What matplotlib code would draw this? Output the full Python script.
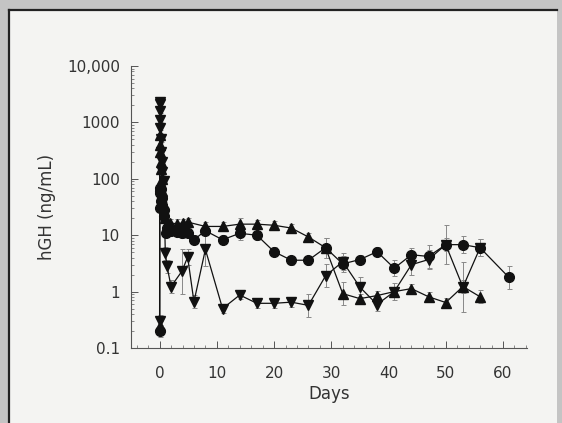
import matplotlib.pyplot as plt
import numpy as np
from matplotlib.patches import Rectangle
from matplotlib.lines import Line2D
from matplotlib.ticker import MultipleLocator, LogLocator, NullFormatter

# circles
circ_days = [0, 0.03, 0.06, 0.1, 0.15, 0.2, 0.3, 0.4, 0.5, 0.7, 0.85, 1.1, 1.3, 2, 3, 3.9, 5, 6,
             8, 11, 14, 17, 20, 23, 26, 29, 32, 35, 38, 41, 44, 47, 50, 53, 56, 61]
circ_vals = [0.2, 30, 60, 70, 55, 40, 65, 45, 35, 28, 22, 11, 13.3, 12, 11.5, 10.8, 11, 8.3,
             12, 8.3, 10.8, 10, 5.1, 3.6, 3.6, 6.0, 3.1, 3.7, 5.1, 2.6, 4.5, 4.2, 6.8, 6.8, 6.0, 1.8]
circ_err = [1.3, 1.1, 1.1, 1.1, 1.1, 1.1, 1.1, 1.1, 1.1, 1.1, 1.1, 1.2, 1.2, 1.2, 1.2, 1.2, 1.2, 1.2,
            1.2, 1.2, 1.3, 1.2, 1.2, 1.2, 1.2, 1.5, 1.4, 1.2, 1.2, 1.4, 1.3, 1.6, 1.3, 1.4, 1.4, 1.6]

# upward triangles
up_days = [0, 0.02, 0.05, 0.1, 0.17, 0.25, 0.35, 0.5, 0.75, 1.0, 1.8, 3, 4, 5,
           8, 11, 14, 17, 20, 23, 26, 29, 32, 35, 38, 41, 44, 47, 50, 53, 56]
up_vals = [0.25, 600, 400, 300, 200, 150, 100, 60, 35, 20, 16.4, 16, 16.4, 17,
           14.3, 14.3, 15.7, 15.7, 15, 13.4, 9.3, 6.0, 0.92, 0.75, 0.85, 1.0, 1.13, 0.81, 0.64, 1.23, 0.81]
up_err = [1.2, 1.1, 1.1, 1.1, 1.1, 1.1, 1.1, 1.1, 1.1, 1.1, 1.2, 1.2, 1.2, 1.2,
          1.2, 1.2, 1.3, 1.2, 1.2, 1.2, 1.2, 1.5, 1.6, 1.2, 1.2, 1.2, 1.2, 1.2, 1.2, 1.3, 1.3]

# downward triangles
down_days = [0, 0.01, 0.03, 0.06, 0.1, 0.15, 0.2, 0.3, 0.4, 0.5, 0.7, 1.0, 1.3, 2.0, 3.9, 4.9, 6.0,
             8, 11, 14, 17, 20, 23, 26, 29, 32, 35, 38, 41, 44, 47, 50, 53, 56]
down_vals = [0.3, 2300, 2100, 1600, 1100, 800, 500, 300, 200, 130, 90, 4.8, 2.8, 1.23, 2.3, 4.1, 0.66,
             5.6, 0.5, 0.87, 0.62, 0.62, 0.65, 0.57, 1.9, 3.4, 1.2, 0.59, 1.0, 3.0, 3.7, 6.8, 1.2, 6.0]
down_err = [1.3, 1.1, 1.1, 1.1, 1.1, 1.1, 1.1, 1.1, 1.1, 1.1, 1.1, 1.3, 1.3, 1.3, 2.5, 1.4, 1.3,
            2.0, 1.2, 1.2, 1.2, 1.2, 1.2, 1.6, 1.6, 1.4, 1.5, 1.3, 1.4, 1.5, 1.5, 2.2, 2.8, 1.4]

ytick_vals = [0.1, 1, 10, 100, 1000, 10000]
ytick_labels = ['0.1', '1', '10', '100', '1000', '10,000']
xtick_vals = [0, 10, 20, 30, 40, 50, 60]

plt.rcParams['font.family'] = ['DejaVu Sans']

fig = plt.figure(figsize=(5.62, 4.23), dpi=100, facecolor='#c4c4c4')

# off-white panel with dark left/top edge
fig.patches.append(Rectangle((9 / 562, 0), 548 / 562, 413 / 423,
                             transform=fig.transFigure, facecolor='#f4f4f2', edgecolor='none', zorder=-5))
fig.lines.append(Line2D([9 / 562, 9 / 562], [0, 413 / 423], transform=fig.transFigure,
                        color='#222222', linewidth=1.6, zorder=-4))
fig.lines.append(Line2D([9 / 562, 557 / 562], [413 / 423, 413 / 423], transform=fig.transFigure,
                        color='#222222', linewidth=1.6, zorder=-4))

ax = fig.add_axes([131 / 562, 75 / 423, 396 / 562, 282 / 423])
ax.set_zorder(2)
ax.set_facecolor('none')

series = [(circ_days, circ_vals, circ_err, 'o', 7),
          (up_days, up_vals, up_err, '^', 7),
          (down_days, down_vals, down_err, 'v', 7)]
for d, v, f, m, ms in series:
    v = np.array(v)
    f = np.array(f)
    yerr = [v - v / f, v * f - v]
    ax.errorbar(d, v, yerr=yerr, fmt='-', marker=m, markersize=ms, color='#111111',
                linewidth=0.9, ecolor='#888888', elinewidth=0.7, capsize=1.8, capthick=0.7)

ax.set_yscale('log')
ax.set_ylim(0.1, 10000)
ax.set_xlim(-5, 64.2)
ax.set_yticks(ytick_vals, ytick_labels)
ax.yaxis.set_minor_locator(LogLocator(base=10, subs=np.arange(2, 10)))
ax.yaxis.set_minor_formatter(NullFormatter())
ax.set_xticks(xtick_vals)
ax.xaxis.set_minor_locator(MultipleLocator(2))

for s in ['top', 'right']:
    ax.spines[s].set_visible(False)
for s in ['left', 'bottom']:
    ax.spines[s].set_color('#555555')
    ax.spines[s].set_linewidth(0.8)

ax.tick_params(which='major', direction='in', length=5, width=0.7, color='#555555',
               labelsize=11, labelcolor='#333333', pad=8)
ax.tick_params(axis='x', which='major', pad=13)
ax.tick_params(which='minor', direction='in', length=2.5, width=0.6, color='#777777')

ax.set_xlabel('Days', fontsize=12, color='#333333', labelpad=3)
ax.set_ylabel('hGH (ng/mL)', fontsize=12, color='#333333', labelpad=8)

fig.savefig('out.png', dpi=100, facecolor=fig.get_facecolor())
